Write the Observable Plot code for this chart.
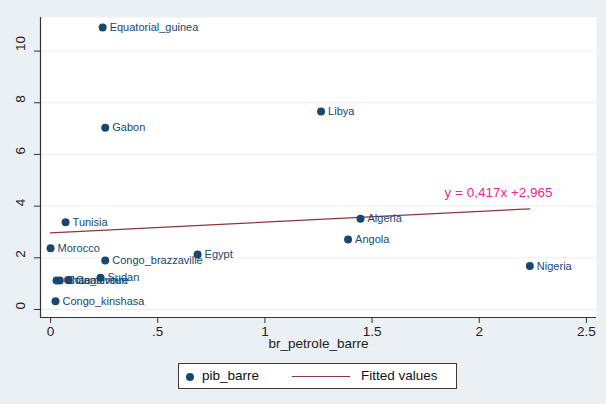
<!DOCTYPE html>
<html>
<head>
<meta charset="utf-8">
<script src="https://cdn.jsdelivr.net/npm/d3@7"></script>
<script src="https://cdn.jsdelivr.net/npm/@observablehq/plot@0.6"></script>
<style>
  html, body { margin: 0; padding: 0; background: #eaf0f3; }
  #wrap { position: relative; width: 606px; height: 404px; font-family: "Liberation Sans", Arial, sans-serif; }
  #legend { position: absolute; left: 178px; top: 363px; width: 279px; height: 26px; box-sizing: border-box;
            border: 1px solid #3a3a3a; background: #fff; font-size: 13.5px; color: #111; }
  #legend .item { position: absolute; top: 4px; white-space: nowrap; }
  #legend .dot { position: absolute; left: 7px; top: 9px; width: 8px; height: 8px; border-radius: 50%; background: #1a476f; }
  #legend .line { position: absolute; left: 113px; top: 12px; width: 58px; height: 0; border-top: 1.3px solid #90353b; }
</style>
</head>
<body>
<div id="wrap">
  <div id="chart"></div>
  <div id="legend">
    <div class="dot"></div><div class="item" style="left:23px">pib_barre</div>
    <div class="line"></div><div class="item" style="left:182px">Fitted values</div>
  </div>
</div>
<script>
const countries = ["Equatorial_guinea","Gabon","Libya","Tunisia","Morocco","Congo_brazzaville","Egypt","Sudan","Ghana","Cote_divoire","Cameroun","Congo_kinshasa","Algeria","Angola","Nigeria"];
const petrole   = [0.243, 0.255, 1.262, 0.070, 0.000, 0.255, 0.686, 0.233, 0.028, 0.043, 0.085, 0.023, 1.446, 1.388, 2.236];
const pib       = [10.91, 7.03, 7.66, 3.38, 2.37, 1.90, 2.13, 1.23, 1.12, 1.12, 1.13, 0.32, 3.51, 2.71, 1.68];
const slope = 0.417, intercept = 2.965;
const equationText = "y = 0,417x +2,965";
const equationPos = {x: 2.09, y: 4.54};
const xTicks = [0, 0.5, 1, 1.5, 2, 2.5];
const xTickLabels = ["0", ".5", "1", "1.5", "2", "2.5"];
const yTicks = [0, 2, 4, 6, 8, 10];
const xDomain = [-0.047, 2.547];
const yDomain = [-0.31, 11.3];

const points = countries.map((c, i) => ({name: c, x: petrole[i], y: pib[i]}));
const xMin = d3.min(petrole), xMax = d3.max(petrole);
const fit = [xMin, xMax].map(x => ({x, y: slope * x + intercept}));

const chart = Plot.plot({
  width: 606,
  height: 404,
  marginLeft: 40,
  marginRight: 10,
  marginTop: 17,
  marginBottom: 87,
  style: {background: "#eaf0f3", fontFamily: "Liberation Sans, Arial, sans-serif", color: "#222"},
  x: {domain: xDomain},
  y: {domain: yDomain},
  marks: [
    Plot.frame({fill: "white", stroke: "none"}),
    Plot.gridY(yTicks, {stroke: "#e9eef1", strokeOpacity: 1, strokeWidth: 1}),
    Plot.ruleX([xDomain[0]], {stroke: "#333", strokeWidth: 1.2}),
    Plot.ruleY([yDomain[0]], {stroke: "#333", strokeWidth: 1.2}),
    Plot.axisY({ticks: yTicks, tickSize: 6, text: null, stroke: "#333", label: null}),
    Plot.text(yTicks, {y: d => d, text: d => String(d), frameAnchor: "left", rotate: -90, dx: -20, fontSize: 13.5, fill: "#222"}),
    Plot.axisX({ticks: xTicks, tickSize: 6, tickPadding: 3, tickFormat: d => xTickLabels[xTicks.indexOf(d)], fontSize: 13.5, stroke: "#333", fill: "#222", label: null}),
    Plot.text(["br_petrole_barre"], {text: d => d, frameAnchor: "bottom", dy: 30, fontSize: 13.5, fill: "#222"}),
    Plot.line(fit, {x: "x", y: "y", stroke: "#90353b", strokeWidth: 1.3}),
    Plot.dot(points, {x: "x", y: "y", r: 4, fill: "#1a476f", stroke: "none"}),
    Plot.text(points, {x: "x", y: "y", text: "name", dx: 7, textAnchor: "start", fontSize: 11, fill: "#1a476f"}),
    Plot.text([equationPos], {x: "x", y: "y", text: () => equationText, fontSize: 13.5, fill: "#e8288a"})
  ]
});
document.getElementById("chart").append(chart);
</script>
</body>
</html>
